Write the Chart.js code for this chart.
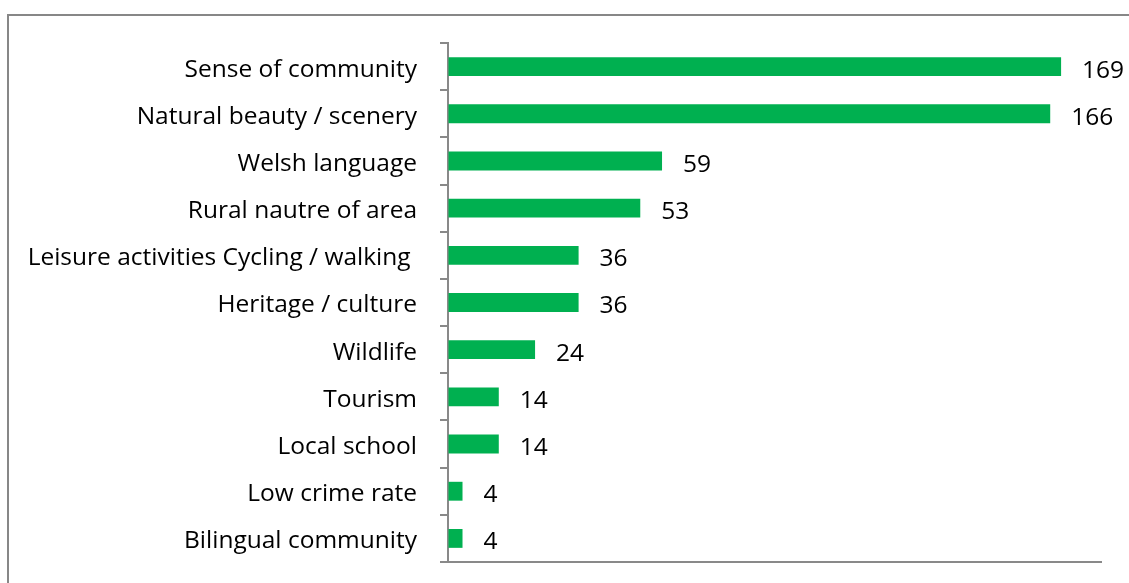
<!DOCTYPE html>
<html>
<head>
<meta charset="utf-8">
<script src="https://cdn.jsdelivr.net/npm/chart.js@4/dist/chart.umd.min.js"></script>
<style>
html,body{margin:0;padding:0;background:#fff;}
#wrap{position:relative;width:1129px;height:583px;}
</style>
</head>
<body>
<div id="wrap"><canvas id="c" width="1129" height="583"></canvas></div>
<script>
const categories = [
  "Sense of community",
  "Natural beauty / scenery",
  "Welsh language",
  "Rural nautre of area",
  "Leisure activities Cycling / walking ",
  "Heritage / culture",
  "Wildlife",
  "Tourism",
  "Local school",
  "Low crime rate",
  "Bilingual community"
];
const values = [169, 166, 59, 53, 36, 36, 24, 14, 14, 4, 4];
const axisMax = 180;

const FONT = "'Open Sans', sans-serif";

const borderPlugin = {
  id: 'outerBorder',
  beforeDraw(chart) {
    const ctx = chart.ctx;
    ctx.save();
    ctx.strokeStyle = '#878787';
    ctx.lineWidth = 2;
    ctx.strokeRect(8, 15, 1200, 700);
    ctx.restore();
  }
};

const labelPlugin = {
  id: 'valueLabels',
  afterDatasetsDraw(chart) {
    const ctx = chart.ctx;
    const meta = chart.getDatasetMeta(0);
    ctx.save();
    ctx.font = "24.5px " + FONT;
    ctx.fillStyle = '#000';
    ctx.textAlign = 'left';
    ctx.textBaseline = 'middle';
    meta.data.forEach((bar, i) => {
      ctx.fillText(String(values[i]), bar.x + 21, bar.y + 4);
    });
    ctx.restore();
  }
};

new Chart(document.getElementById('c'), {
  type: 'bar',
  data: {
    labels: categories,
    datasets: [{
      data: values,
      backgroundColor: '#00B050',
      borderWidth: 0,
      barPercentage: 0.4,
      categoryPercentage: 1.0
    }]
  },
  options: {
    indexAxis: 'y',
    responsive: false,
    animation: false,
    layout: { padding: { top: 43, bottom: 21, left: 0, right: 28 } },
    plugins: { legend: { display: false }, tooltip: { enabled: false } },
    scales: {
      x: {
        min: 0, max: axisMax,
        ticks: { display: false },
        grid: { drawOnChartArea: false, drawTicks: false },
        border: { display: true, color: '#898989', width: 2 },
        afterFit(scale) { scale.height = 0; scale.paddingLeft = 0; scale.paddingRight = 0; }
      },
      y: {
        offset: true,
        ticks: {
          color: '#000',
          font: { size: 24.5, family: FONT },
          padding: 23,
          labelOffset: 3
        },
        grid: {
          offset: true,
          drawOnChartArea: false,
          drawTicks: true,
          tickLength: 8,
          color: '#898989',
          lineWidth: 2
        },
        border: { display: true, color: '#898989', width: 2 },
        afterFit(scale) { scale.width = 448; scale.paddingTop = 0; scale.paddingBottom = 0; }
      }
    }
  },
  plugins: [borderPlugin, labelPlugin]
});
</script>
</body>
</html>
